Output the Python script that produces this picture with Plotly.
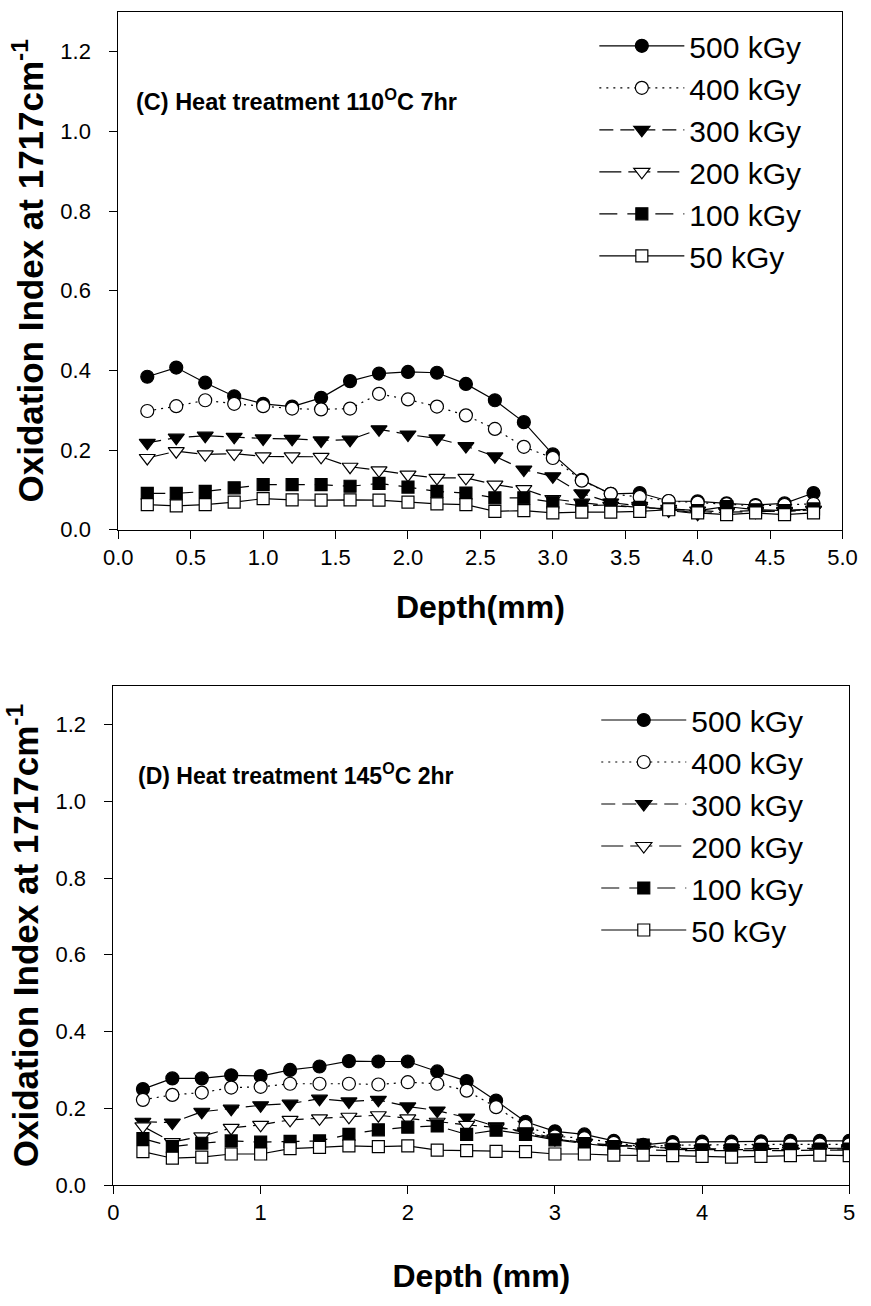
import plotly.graph_objects as go

# ---------------- data ----------------
depth_c = [0.2, 0.4, 0.6, 0.8, 1.0, 1.2, 1.4, 1.6, 1.8, 2.0, 2.2, 2.4,
           2.6, 2.8, 3.0, 3.2, 3.4, 3.6, 3.8, 4.0, 4.2, 4.4, 4.6, 4.8]
depth_d = [0.2, 0.4, 0.6, 0.8, 1.0, 1.2, 1.4, 1.6, 1.8, 2.0, 2.2, 2.4,
           2.6, 2.8, 3.0, 3.2, 3.4, 3.6, 3.8, 4.0, 4.2, 4.4, 4.6, 4.8, 5.0]

series_names = ["500 kGy", "400 kGy", "300 kGy", "200 kGy", "100 kGy", "50 kGy"]

# (C) Heat treatment 110 C 7hr
c_500 = [0.384, 0.407, 0.369, 0.335, 0.316, 0.309, 0.331, 0.373, 0.392, 0.396, 0.394, 0.366,
         0.325, 0.270, 0.189, 0.125, 0.090, 0.092, 0.072, 0.071, 0.066, 0.062, 0.066, 0.092]
c_400 = [0.298, 0.310, 0.325, 0.316, 0.310, 0.304, 0.302, 0.304, 0.341, 0.327, 0.309, 0.287,
         0.253, 0.208, 0.180, 0.123, 0.090, 0.082, 0.072, 0.068, 0.064, 0.060, 0.062, 0.065]
c_300 = [0.218, 0.231, 0.236, 0.233, 0.229, 0.228, 0.224, 0.226, 0.252, 0.239, 0.229, 0.210,
         0.184, 0.151, 0.134, 0.091, 0.068, 0.060, 0.048, 0.040, 0.045, 0.048, 0.045, 0.050]
c_200 = [0.180, 0.197, 0.189, 0.191, 0.184, 0.184, 0.183, 0.158, 0.149, 0.138, 0.130, 0.130,
         0.113, 0.102, 0.077, 0.068, 0.060, 0.056, 0.052, 0.048, 0.044, 0.045, 0.047, 0.050]
c_100 = [0.091, 0.091, 0.096, 0.105, 0.113, 0.113, 0.113, 0.109, 0.116, 0.107, 0.096, 0.092,
         0.080, 0.080, 0.069, 0.060, 0.062, 0.056, 0.052, 0.048, 0.058, 0.050, 0.048, 0.052]
c_50 = [0.063, 0.060, 0.063, 0.069, 0.078, 0.075, 0.074, 0.075, 0.074, 0.069, 0.065, 0.063,
        0.046, 0.048, 0.042, 0.044, 0.044, 0.046, 0.050, 0.042, 0.038, 0.042, 0.038, 0.042]

# (D) Heat treatment 145 C 2hr
d_500 = [0.250, 0.278, 0.278, 0.286, 0.284, 0.300, 0.309, 0.323, 0.322, 0.322, 0.296, 0.271,
         0.220, 0.165, 0.140, 0.132, 0.115, 0.105, 0.112, 0.113, 0.113, 0.114, 0.115, 0.115, 0.115]
d_400 = [0.222, 0.235, 0.241, 0.254, 0.256, 0.264, 0.264, 0.264, 0.262, 0.268, 0.264, 0.246,
         0.203, 0.154, 0.127, 0.122, 0.110, 0.100, 0.104, 0.105, 0.105, 0.106, 0.106, 0.106, 0.106]
d_300 = [0.165, 0.163, 0.191, 0.199, 0.208, 0.212, 0.225, 0.218, 0.222, 0.205, 0.194, 0.176,
         0.153, 0.136, 0.120, 0.110, 0.104, 0.100, 0.096, 0.095, 0.094, 0.095, 0.095, 0.096, 0.096]
d_200 = [0.153, 0.112, 0.127, 0.149, 0.157, 0.170, 0.174, 0.178, 0.182, 0.174, 0.165, 0.157,
         0.150, 0.140, 0.122, 0.110, 0.100, 0.092, 0.090, 0.090, 0.089, 0.090, 0.090, 0.091, 0.091]
d_100 = [0.121, 0.100, 0.109, 0.115, 0.112, 0.114, 0.115, 0.132, 0.144, 0.151, 0.154, 0.132,
         0.143, 0.132, 0.118, 0.108, 0.100, 0.104, 0.093, 0.092, 0.092, 0.093, 0.093, 0.094, 0.094]
d_50 = [0.087, 0.070, 0.073, 0.081, 0.081, 0.095, 0.098, 0.102, 0.100, 0.102, 0.091, 0.090,
        0.088, 0.087, 0.081, 0.081, 0.078, 0.078, 0.077, 0.075, 0.073, 0.075, 0.077, 0.078, 0.077]

x_ticks_c = [0.0, 0.5, 1.0, 1.5, 2.0, 2.5, 3.0, 3.5, 4.0, 4.5, 5.0]
x_ticks_d = [0, 1, 2, 3, 4, 5]
y_ticks = [0.0, 0.2, 0.4, 0.6, 0.8, 1.0, 1.2]

# ---------------- styles ----------------
FONT = "Arial, Liberation Sans, Helvetica, sans-serif"
styles = [
    dict(symbol="circle", fill="black", size=13, dash="solid"),
    dict(symbol="circle", fill="white", size=13, dash="2px,5px"),
    dict(symbol="triangle-down", fill="black", size=14, dash="14px,7px"),
    dict(symbol="triangle-down", fill="white", size=14, dash="22px,7px"),
    dict(symbol="square", fill="black", size=12, dash="18px,10px"),
    dict(symbol="square", fill="white", size=12, dash="solid"),
]

fig = go.Figure()

def add_panel(xs, series, xa, ya, legend):
    for name, ys, st in zip(series_names, series, styles):
        fig.add_trace(go.Scatter(
            x=xs, y=ys, name=name, mode="lines+markers",
            xaxis=xa, yaxis=ya, legend=legend,
            line=dict(color="black", width=1.2, dash=st["dash"]),
            marker=dict(symbol=st["symbol"], size=st["size"], color=st["fill"],
                        line=dict(color="black", width=1.2)),
        ))

add_panel(depth_c, [c_500, c_400, c_300, c_200, c_100, c_50], "x", "y", "legend")
add_panel(depth_d, [d_500, d_400, d_300, d_200, d_100, d_50], "x2", "y2", "legend2")

W, H = 871, 1306
def px_x(p):
    return p / W
def px_y(p):
    return 1 - p / H

axis_common = dict(showline=True, linecolor="black", linewidth=1, mirror=True,
                   ticks="outside", ticklen=8, tickcolor="black", tickwidth=1,
                   showgrid=False, zeroline=False,
                   tickfont=dict(family=FONT, size=22, color="black"))

ytitle = "<b>Oxidation Index at 1717cm<sup>-1</sup></b>"

fig.update_layout(
    width=W, height=H,
    margin=dict(l=0, r=0, t=0, b=0),
    paper_bgcolor="white", plot_bgcolor="white",
    font=dict(family=FONT, color="black"),
    xaxis=dict(domain=[px_x(107), px_x(857)], range=[0, 5], tickvals=x_ticks_c,
               tickformat=".1f", anchor="y", ticklabelstandoff=0, ticklabeloverflow="allow",
               title=dict(text="<b>Depth(mm)</b>", font=dict(family=FONT, size=32), standoff=26),
               **axis_common),
    yaxis=dict(domain=[px_y(535), px_y(12)], range=[0, 1.3], tickvals=y_ticks,
               tickformat=".1f", anchor="x", ticklabelstandoff=14,
               title=dict(text=ytitle, font=dict(family=FONT, size=35), standoff=6),
               **axis_common),
    xaxis2=dict(domain=[px_x(102), px_x(864)], range=[0, 5], tickvals=x_ticks_d,
                tickformat="d", anchor="y2", ticklabelstandoff=0, ticklabeloverflow="allow",
                title=dict(text="<b>Depth (mm)</b>", font=dict(family=FONT, size=32), standoff=40),
                **axis_common),
    yaxis2=dict(domain=[px_y(1197), px_y(693)], range=[0, 1.3], tickvals=y_ticks,
                tickformat=".1f", anchor="x2", ticklabelstandoff=14,
                title=dict(text=ytitle, font=dict(family=FONT, size=35), standoff=6),
                **axis_common),
    legend=dict(x=px_x(600), y=px_y(20), xanchor="left", yanchor="top",
                font=dict(family=FONT, size=30), itemwidth=85, bgcolor="rgba(0,0,0,0)",
                tracegroupgap=0),
    legend2=dict(x=px_x(602), y=px_y(701), xanchor="left", yanchor="top",
                 font=dict(family=FONT, size=30), itemwidth=85, bgcolor="rgba(0,0,0,0)",
                 tracegroupgap=0),
    showlegend=True,
    annotations=[
        dict(text="<b>(C) Heat treatment 110<sup>O</sup>C 7hr</b>", xref="x", yref="y",
             x=0.11, y=1.08, xanchor="left", yanchor="middle", showarrow=False,
             font=dict(family=FONT, size=23.5, color="black")),
        dict(text="<b>(D) Heat treatment 145<sup>O</sup>C 2hr</b>", xref="x2", yref="y2",
             x=0.15, y=1.07, xanchor="left", yanchor="middle", showarrow=False,
             font=dict(family=FONT, size=23, color="black")),
    ],
)

fig.write_html("out.html", config={"displayModeBar": False},
               post_script="document.body.style.margin='0px';")
